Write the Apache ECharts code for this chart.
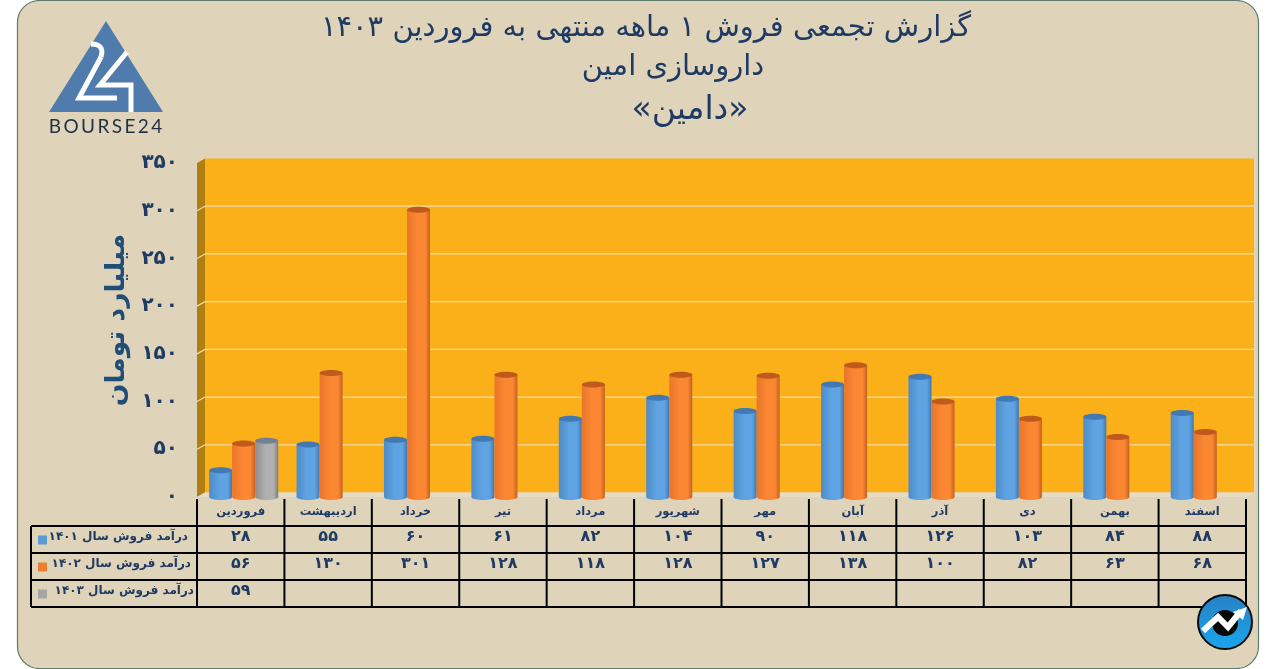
<!DOCTYPE html>
<html><head><meta charset="utf-8">
<style>html,body{margin:0;padding:0;background:#fff}#c{width:1271px;height:669px}</style>
<script src="https://cdn.jsdelivr.net/npm/echarts@6/dist/echarts.min.js"></script></head>
<body><div id="c"></div>
<script>
const months = ['فروردین','اردیبهشت','خرداد','تیر','مرداد','شهریور','مهر','آبان','آذر','دی','بهمن','اسفند'];
const sales1401 = [28,55,60,61,82,104,90,118,126,103,84,88];
const sales1402 = [56,130,301,128,118,128,127,138,100,82,63,68];
const sales1403 = [59,null,null,null,null,null,null,null,null,null,null,null];
const rowNames = ['درآمد فروش سال ۱۴۰۱','درآمد فروش سال ۱۴۰۲','درآمد فروش سال ۱۴۰۳'];
const yTicks = [0,50,100,150,200,250,300,350];
const titleLines = ['گزارش تجمعی فروش ۱ ماهه منتهی به فروردین ۱۴۰۳','داروسازی امین','\u200f«دامین»\u200f'];
const yName = 'میلیارد تومان';

const FONT = '"DejaVu Sans"', NAVY = '#1F3A63';
const toFa = v => String(v).replace(/\d/g, d => '۰۱۲۳۴۵۶۷۸۹'[d]);
const G = {l:197, r:1246, t:163, b:497};
const DX = 8, DY = 4.5;
const rows = [sales1401, sales1402, sales1403];
const swatch = ['#5B9BD5','#ED7D31','#A5A5A5'];
const palettes = [
  {left:'#4C8CC8', mid:'#5FA3E2', right:'#3F78B0', top:'#4279B2'},
  {left:'#E8752A', mid:'#FB8733', right:'#C4611F', top:'#BE5A1C'},
  {left:'#8E8E8E', mid:'#B0B0B0', right:'#7C7C7C', top:'#72808F'}
];

function cylinder(slot){
  const p = palettes[slot];
  return function(params, api){
    const c = api.coord([api.value(0), api.value(1)]);
    const base = api.coord([api.value(0), 0]);
    const band = api.size([1,0])[0];
    const w = band*0.2635, cx = c[0] + band*0.034 + (slot-1)*w, ry = 3;
    const x = cx-w/2;
    const grad = {type:'linear',x:0,y:0,x2:1,y2:0,colorStops:[
      {offset:0,color:p.left},{offset:0.45,color:p.mid},{offset:0.8,color:p.mid},{offset:1,color:p.right}]};
    return {type:'group',children:[
      {type:'ellipse',shape:{cx:cx,cy:base[1],rx:w/2,ry:ry},style:{fill:grad}},
      {type:'rect',shape:{x:x,y:c[1],width:w,height:base[1]-c[1]},style:{fill:grad}},
      {type:'ellipse',shape:{cx:cx,cy:c[1],rx:w/2,ry:ry},style:{fill:p.top}}
    ]};
  };
}
const cylSeries = rows.map((r,slot)=>({
  type:'custom', z:3, silent:true, clip:false,
  renderItem:cylinder(slot),
  encode:{x:0,y:1},
  data:r.map((v,i)=>[i,v]).filter(d=>d[1]!==null)
}));
const wallSeries = {
  type:'custom', z:1, silent:true, clip:false,
  encode:{y:0},
  data:yTicks.map(v=>[v]),
  renderItem(params, api){
    const v = api.value(0), y = api.coord([0,v])[1];
    const line = (a,b,c,d)=>({type:'line',shape:{x1:a,y1:b,x2:c,y2:d},style:{stroke:'#EFDDA8',lineWidth:1.2}});
    const kids = [];
    if(v===0){
      const top = api.coord([0,350])[1];
      kids.push({type:'rect',shape:{x:G.l+DX,y:top-DY,width:G.r-G.l,height:y-top},style:{fill:'#FBB01A'}});
      kids.push({type:'polygon',shape:{points:[[G.l,top],[G.l+DX,top-DY],[G.l+DX,y-DY],[G.l,y]]},style:{fill:'#B07F12'}});
      kids.push({type:'polygon',shape:{points:[[G.l,y],[G.l+DX,y-DY],[G.r+DX,y-DY],[G.r,y]]},style:{fill:'#E6DCC6'}});
    } else if(v<350){
      kids.push(line(G.l+DX,y-DY,G.r+DX,y-DY));
      kids.push(line(G.l,y,G.l+DX,y-DY));
    }
    return {type:'group',children:kids};
  }
};

/* table */
const T = {left:31, rowY:[526,553,580,607], top:499};
const colW = (G.r-G.l)/12;
const g = [];
g.push({type:'rect',z:-1,shape:{x:17.5,y:0.5,width:1241,height:668,r:22},style:{fill:'#DFD4BA',stroke:'#5F7A6E',lineWidth:1.2}});
titleLines.forEach((t,i)=>g.push({type:'text',z:5,x:[646,673,690][i],y:[28,67,110][i],
  style:{text:t,fill:NAVY,font:`${[29,29,33][i]}px ${FONT}`,textAlign:'center',textVerticalAlign:'middle'}}));
const black = {stroke:'#000',lineWidth:2};
T.rowY.forEach(y=>g.push({type:'line',z:5,shape:{x1:T.left,y1:y,x2:G.r,y2:y},style:black}));
g.push({type:'line',z:5,shape:{x1:T.left,y1:T.rowY[0],x2:T.left,y2:T.rowY[3]},style:black});
for(let i=0;i<=12;i++){const x=G.l+i*colW;
  g.push({type:'line',z:5,shape:{x1:x,y1:T.top,x2:x,y2:T.rowY[3]},style:black});}
rows.forEach((r,ri)=>{
  const cy=(T.rowY[ri]+T.rowY[ri+1])/2-3;
  g.push({type:'rect',z:5,shape:{x:38,y:cy-1,width:9,height:9},style:{fill:swatch[ri]}});
  g.push({type:'text',z:5,x:[188,191,194][ri],y:cy,style:{text:rowNames[ri],fill:NAVY,font:`bold 12px ${FONT}`,textAlign:'right',textVerticalAlign:'middle'}});
  r.forEach((v,i)=>{ if(v===null) return;
    g.push({type:'text',z:5,x:G.l+(i+0.5)*colW,y:cy,style:{text:toFa(v),fill:NAVY,font:`bold 16px ${FONT}`,textAlign:'center',textVerticalAlign:'middle'}});
  });
});
/* logo */
g.push({type:'polygon',z:5,shape:{points:[[106,21],[163,112],[49,112]]},style:{fill:'#4F7CAC'}});
g.push({type:'bezierCurve',z:6,shape:{x1:91,y1:44,cpx1:105,cpy1:44,x2:101,y2:57},style:{stroke:'#fff',lineWidth:5,fill:null}});
g.push({type:'polyline',z:6,shape:{points:[[101,57],[79,98],[117,98]]},style:{stroke:'#fff',lineWidth:5,fill:null}});
g.push({type:'polyline',z:6,shape:{points:[[127,52],[100,85],[131,85],[131,112]]},style:{stroke:'#fff',lineWidth:5,fill:null}});
g.push({type:'text',z:5,x:105.5,y:127,style:{text:'B\u2009O\u2009U\u2009R\u2009S\u2009E\u20092\u20094',fill:'#1F3145',font:'19px Lato',textAlign:'center',textVerticalAlign:'middle'}});
/* badge */
g.push({type:'circle',z:7,shape:{cx:1225,cy:622,r:27},style:{fill:{type:'linear',x:0,y:0,x2:0,y2:1,colorStops:[{offset:0,color:'#2A7FC4'},{offset:1,color:'#19A7EC'}]},stroke:'#0A0A0A',lineWidth:2}});
g.push({type:'circle',z:8,shape:{cx:1225,cy:623,r:13},style:{fill:'#060606'}});
g.push({type:'polyline',z:9,shape:{points:[[1203,631],[1218,617],[1228,627],[1241,611]]},style:{stroke:'#fff',lineWidth:6,fill:null}});
g.push({type:'polygon',z:9,shape:{points:[[1233,612],[1247,607],[1243,620]]},style:{fill:'#fff'}});

const chart = echarts.init(document.getElementById('c'),null,{renderer:'canvas'});
chart.setOption({
  animation:false, backgroundColor:'#fff',
  textStyle:{fontFamily:FONT},
  grid:{left:G.l,top:G.t,width:G.r-G.l,height:G.b-G.t,containLabel:false},
  xAxis:{type:'category',data:months,axisLine:{show:false},axisTick:{show:false},splitLine:{show:false},
    axisLabel:{color:NAVY,fontFamily:FONT,fontWeight:'bold',fontSize:11.5,margin:9,interval:0}},
  yAxis:{type:'value',min:0,max:350,interval:50,axisLine:{show:false},axisTick:{show:false},splitLine:{show:false},
    axisLabel:{color:NAVY,fontFamily:FONT,fontWeight:'bold',fontSize:20,margin:19,formatter:v=>toFa(v)},
    name:yName,nameLocation:'middle',nameRotate:90,nameGap:66,
    nameTextStyle:{color:'#1F4E79',fontFamily:FONT,fontSize:26.5,fontWeight:'bold',padding:[0,0,0,20]}},
  series:[wallSeries,...cylSeries],
  graphic:{elements:g}
});
</script></body></html>
